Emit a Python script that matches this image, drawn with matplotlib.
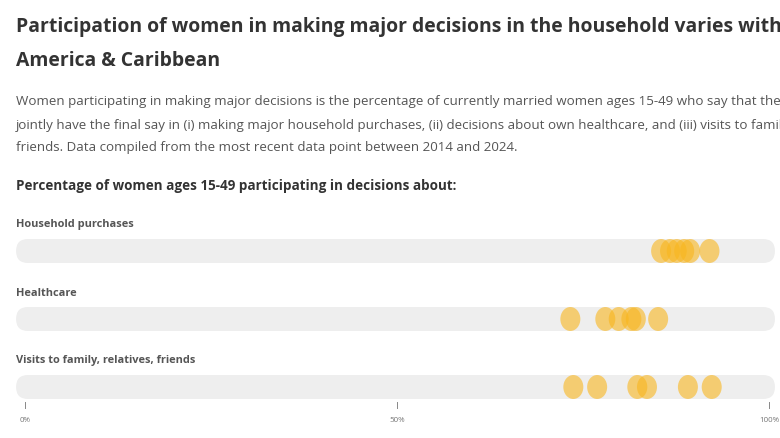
import matplotlib as mpl
import matplotlib.pyplot as plt
from matplotlib.patches import Ellipse, FancyBboxPatch

mpl.rcParams["font.family"] = ["Open Sans", "DejaVu Sans"]

# values (percent)
categories = ["Household purchases", "Healthcare", "Visits to family, relatives, friends"]
household = [85.5, 86.7, 87.6, 88.6, 89.4, 92.0]
healthcare = [73.3, 78.0, 79.8, 81.5, 82.1, 85.1]
visits = [73.7, 76.9, 82.3, 83.6, 89.1, 92.3]
series = [household, healthcare, visits]
ticks = [0, 50, 100]
tick_labels = ["0%", "50%", "100%"]

W, H = 780, 439
fig = plt.figure(figsize=(W / 100, H / 100), dpi=100)

def px(x, y):
    return x / W, 1 - y / H

# axes: x in percent (0% at px 25, 100% at px 769), y in pixel rows
ax = fig.add_axes([25 / W, 0, 744 / W, 1])
ax.set_xlim(0, 100)
ax.set_ylim(H, 0)
ax.axis("off")

ppu = 744 / 100.0  # pixels per percent
row_y = [252, 320, 388]
label_y = [224, 293, 361]
track_h = 24
dot_w, dot_h = 20 / ppu, 24

for i, vals in enumerate(series):
    y = row_y[i]
    track = FancyBboxPatch((-1.2, y - track_h / 2), 102.0, track_h,
                           boxstyle="round,pad=0,rounding_size=1.6",
                           mutation_aspect=12 / 1.6,
                           fc="#eeeeee", ec="none", clip_on=False, zorder=1)
    ax.add_patch(track)
    for v in vals:
        ax.add_patch(Ellipse((v, y), dot_w, dot_h, fc="#f9b61e", alpha=0.6,
                             ec="none", clip_on=False, zorder=3))
    fig.text(*px(16, label_y[i]), categories[i], fontsize=7.9, fontweight="bold",
             color="#555555", va="center", ha="left")

for t, lab in zip(ticks, tick_labels):
    ax.plot([t, t], [403, 409], color="#888888", lw=0.7, clip_on=False)
    ax.text(t, 421, lab, fontsize=5.8, color="#777777", ha="center", va="center")

# the reference is cropped on the right, so long lines run off the edge
fig.text(*px(16, 27), "Participation of women in making major decisions in the household varies within Latin",
         fontsize=13.95, fontweight="bold", color="#333333", va="center", ha="left")
fig.text(*px(16, 61), "America & Caribbean", fontsize=13.95, fontweight="bold",
         color="#333333", va="center", ha="left")

sub = [
    "Women participating in making major decisions is the percentage of currently married women ages 15-49 who say that they alone or",
    "jointly have the final say in (i) making major household purchases, (ii) decisions about own healthcare, and (iii) visits to family, relatives, or",
    "friends. Data compiled from the most recent data point between 2014 and 2024.",
]
for k, line in enumerate(sub):
    fig.text(*px(16, 102 + k * 23), line, fontsize=9.65, color="#555555", va="center", ha="left")

fig.text(*px(16, 186), "Percentage of women ages 15-49 participating in decisions about:",
         fontsize=9.75, fontweight="bold", color="#333333", va="center", ha="left")

fig.savefig("out.png", dpi=100)
